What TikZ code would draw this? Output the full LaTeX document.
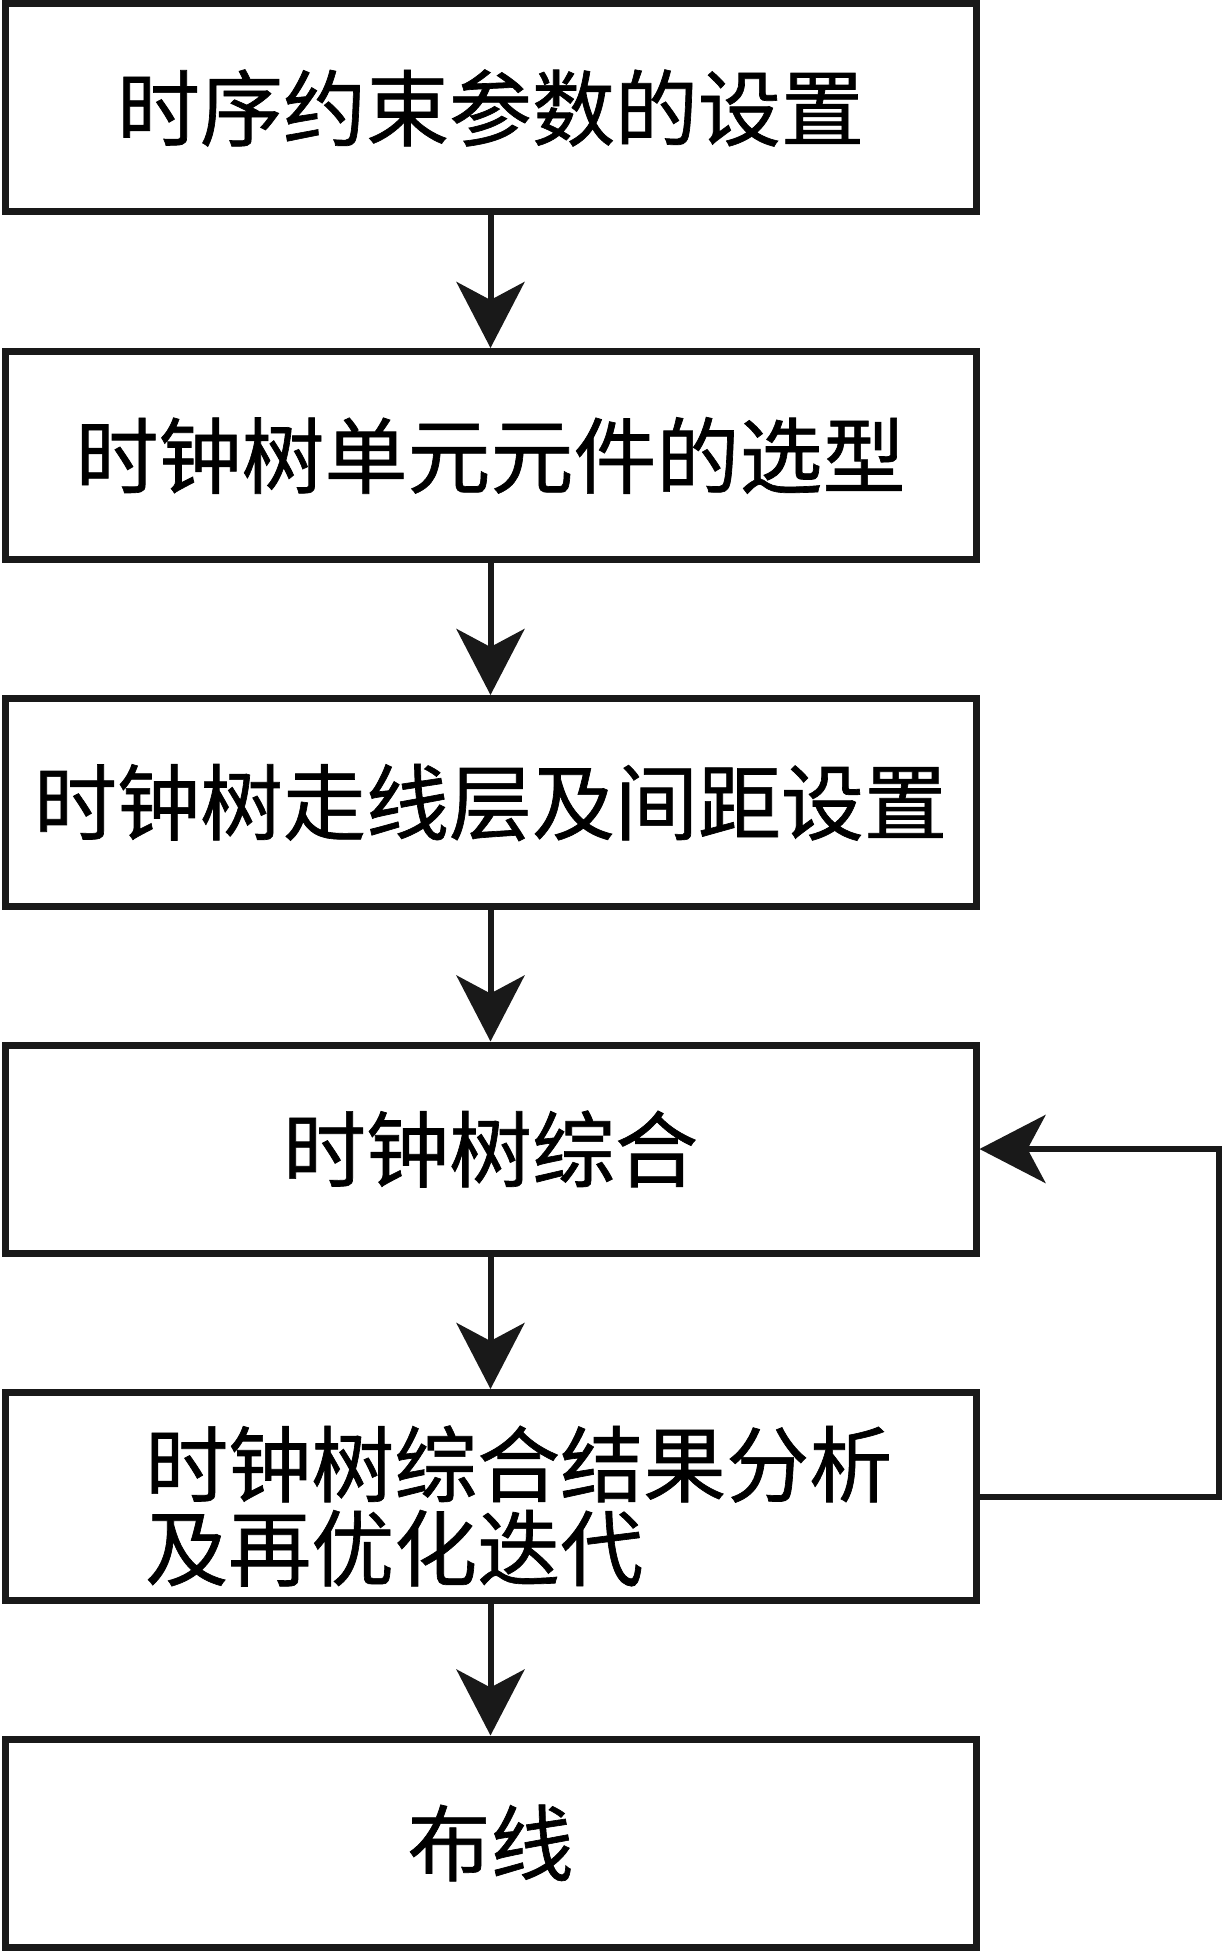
\documentclass[tikz,border=0pt]{standalone}
\usepackage{fontspec}
\newfontfamily\cjk[FakeBold=0.8]{Noto Sans CJK SC}
\usetikzlibrary{arrows.meta}
\begin{document}
\begin{tikzpicture}[x=1pt,y=-1pt,
  stepbox/.style={draw=black!90, line width=7pt, minimum width=971pt, minimum height=208pt, inner sep=0pt,
    font=\cjk\fontsize{83}{84}\selectfont},
  flow/.style={line width=6pt, draw=black!90, -{Stealth[length=66pt,width=68pt,inset=18pt]}}]
\useasboundingbox (0,0) rectangle (1224,1953);
\node[stepbox] (n1) at (490.5,108) {时序约束参数的设置};
\node[stepbox] (n2) at (490.5,455.5) {时钟树单元元件的选型};
\node[stepbox] (n3) at (490.5,802.5) {时钟树走线层及间距设置};
\node[stepbox] (n4) at (490.5,1149) {时钟树综合};
\node[stepbox] (n5) at (490.5,1496.5) {};
\node[font=\cjk\fontsize{83}{84}\selectfont, align=left, anchor=west, inner sep=0pt] (t5) at (145,1506) {时钟树综合结果分析\\及再优化迭代};
\node[stepbox] (n6) at (490.5,1843) {布线};
\draw[flow] (n1) -- (n2);
\draw[flow] (n2) -- (n3);
\draw[flow] (n3) -- (n4);
\draw[flow] (n4) -- (n5);
\draw[flow] (n5) -- (n6);
\coordinate (r) at (1219,1496.5);
\draw[flow] (n5.east) -- (r) |- (n4.east);
\end{tikzpicture}
\end{document}
